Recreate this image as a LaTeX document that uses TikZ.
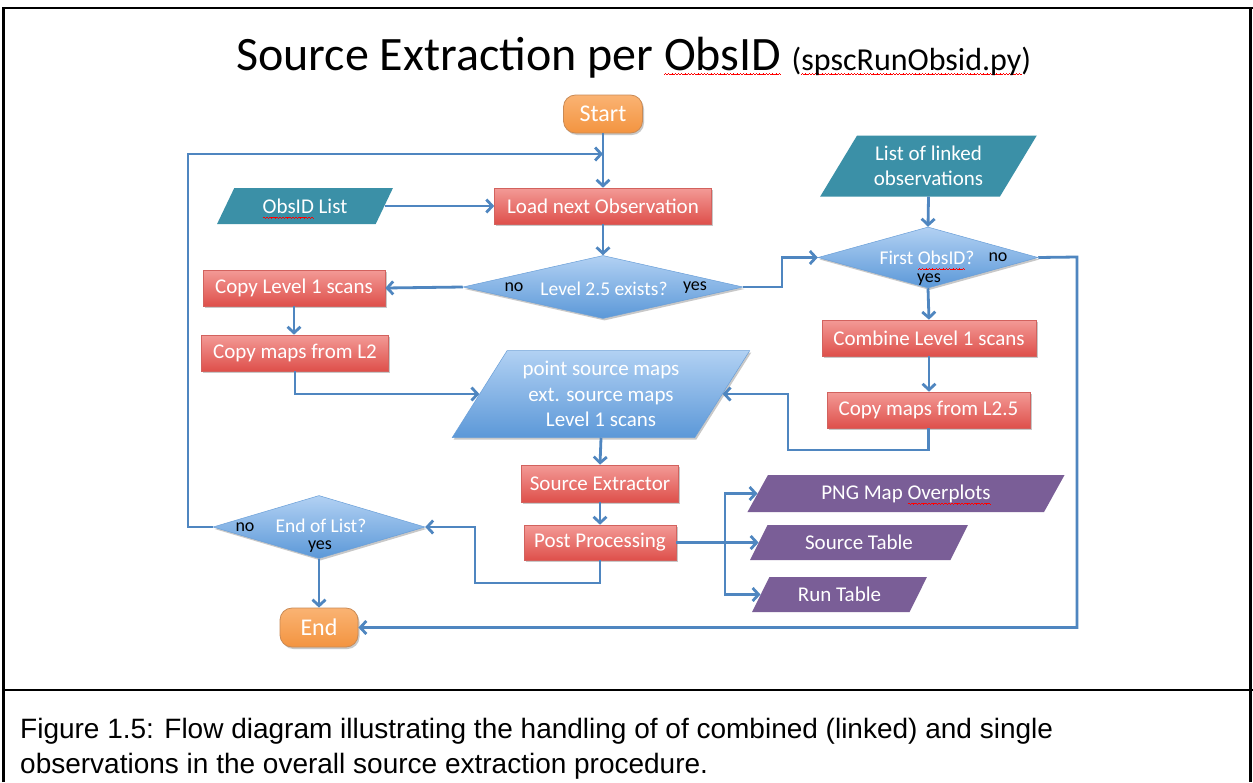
\documentclass[tikz,border=0pt]{standalone}
\usepackage{fontspec}
\setmainfont{Carlito}
\newfontfamily\capfont{Liberation Sans}
\usetikzlibrary{shapes.geometric,arrows.meta,shadows,calc}
\newcommand\spellwave[1]{\setbox0\hbox{#1}\leavevmode\rlap{\raisebox{-4.5pt}[0pt][0pt]{\color{red}\hbox to \wd0{\xleaders\hbox{\rule{0.8pt}{0.6pt}\rule[0.5pt]{0.8pt}{0.6pt}\rule{0.8pt}{0.6pt}\rule[-0.5pt]{0.8pt}{0.6pt}}\hfill}}}\box0\relax}
\definecolor{arrowc}{HTML}{4F86C0}
\definecolor{redtop}{HTML}{F39A96}
\definecolor{redbot}{HTML}{DE504B}
\definecolor{redln}{HTML}{D2625E}
\definecolor{ortop}{HTML}{FAB373}
\definecolor{orbot}{HTML}{F39440}
\definecolor{orln}{HTML}{C98A55}
\definecolor{tealc}{HTML}{3B90A7}
\definecolor{bltop}{HTML}{B2D1F3}
\definecolor{blbot}{HTML}{5B98D8}
\definecolor{blln}{HTML}{6A9FD8}
\definecolor{purp}{HTML}{7A5E97}
\tikzset{
  conn/.style={draw=arrowc, line width=2.8pt, -{Straight Barb[length=6pt,width=13pt]}},
  shadowed/.style={drop shadow={shadow xshift=1.5pt, shadow yshift=-2pt, opacity=0.3, fill=black!70}},
  box/.style={rectangle, draw=redln, line width=0.6pt, top color=redtop, bottom color=redbot,
    text=white, font=\fontsize{21}{25}\selectfont, inner sep=0pt, shadowed},
  startend/.style={rectangle, rounded corners=12pt, draw=orln, line width=0.8pt, top color=ortop, bottom color=orbot,
    text=white, font=\fontsize{24}{28}\selectfont, inner sep=0pt, shadowed},
  para/.style={trapezium, trapezium left angle=55, trapezium right angle=125, trapezium stretches=true,
    inner sep=0pt, text=white, font=\fontsize{21}{25.5}\selectfont, align=center},
  inputp/.style={para, fill=tealc},
  datap/.style={para, top color=bltop, bottom color=blbot, draw=blln, line width=0.5pt, shadowed},
  outp/.style={para, fill=purp},
  dia/.style={diamond, inner sep=0pt, top color=bltop, bottom color=blbot, draw=blln, line width=0.5pt, shadowed},
  dtext/.style={text=white, font=\fontsize{19.5}{22}\selectfont, inner sep=0pt},
  lbl/.style={text=black, font=\fontsize{18}{20}\selectfont, inner sep=0pt},
}
\begin{document}
\begin{tikzpicture}[x=1pt,y=-1pt]
\useasboundingbox (0,0) rectangle (1253,782);
\fill[white] (0,0) rectangle (1253,782);
% frame
\draw[line width=2.5pt] (3.5,782) -- (3.5,8) -- (1253,8);
\draw[line width=2.5pt] (1250.5,8) -- (1250.5,782);
\draw[line width=2.5pt] (3.5,690) -- (1253,690);
% title
\node[anchor=base west, font=\fontsize{48}{54}\selectfont, inner sep=0pt] (title) at (236,70) {Source Extraction per \spellwave{ObsID}};
\node[anchor=base west, font=\fontsize{32}{36}\selectfont, inner sep=0pt] (sub) at ([xshift=10pt]title.base east) {(\spellwave{spscRunObsid.py})};
% nodes
\node[startend, minimum width=79, minimum height=38] (start) at (603,114) {Start};
\node[box, minimum width=217, minimum height=36] (load) at (603,206) {Load next Observation};
\node[inputp, minimum width=176, minimum height=36] (obsid) at (305,206) {\spellwave{ObsID} List};
\node[dia, minimum width=280, minimum height=63] (l25) at (603,287) {};
\node[dtext] (l25t) at (604,289) {Level 2.5 exists?};
\node[lbl] (l25no) at (514,287) {no};
\node[lbl] (l25yes) at (695,288) {yes};
\node[box, minimum width=182, minimum height=36] (cl1) at (294,288) {Copy Level 1 scans};
\node[box, minimum width=187, minimum height=36] (cl2) at (295,353) {Copy maps from L2};
\node[datap, minimum width=298, minimum height=87] (param) at (601,394) {point source maps\\ext. source maps\\Level 1 scans};
\node[inputp, minimum width=217, minimum height=61] (linked) at (928.5,166) {List of linked\\observations};
\node[dia, minimum width=220, minimum height=61] (first) at (928,257.5) {};
\node[dtext] (firstt) at (927,258) {First \spellwave{ObsID}?};
\node[lbl] (firstno) at (998,257) {no};
\node[lbl] (firstyes) at (929,280) {yes};
\node[box, minimum width=214, minimum height=36] (comb) at (929,338) {Combine Level 1 scans};
\node[box, minimum width=203, minimum height=36] (cl25) at (928.5,410) {Copy maps from L2.5};
\node[box, minimum width=157, minimum height=37] (se) at (600,483.5) {Source Extractor};
\node[box, minimum width=152, minimum height=35] (pp) at (600,542.5) {Post Processing};
\node[dia, minimum width=212, minimum height=63] (eol) at (319,527) {};
\node[dtext] (eolt) at (321,526) {End of List?};
\node[lbl] (eolno) at (245,527) {no};
\node[lbl] (eolyes) at (320,546.5) {yes};
\node[startend, minimum width=78, minimum height=39] (end) at (319,627.5) {End};
\node[outp, minimum width=318, minimum height=37] (png) at (906,493.5) {PNG Map \spellwave{Overplots}};
\node[outp, minimum width=218, minimum height=35] (stab) at (859,542.5) {Source Table};
\node[outp, minimum width=175, minimum height=35] (rtab) at (839.5,594.5) {Run Table};
% junction coordinates
\coordinate (loopin) at (603,154);
\coordinate (lx) at (188,154);
\coordinate (j1) at (782,287);
\coordinate (j2) at (788,450);
\coordinate (j3) at (1077,257);
\coordinate (j4) at (475,583);
\coordinate (j5) at (725,542.5);
% connectors
\draw[conn] (start.south) -- (load.north);
\draw[conn] (eol.west) -| (lx) -- (loopin);
\draw[conn] (obsid.right side) -- (load.west);
\draw[conn] (load.south) -- (l25.north);
\draw[conn] (l25.west) -- (cl1.east);
\draw[conn] (cl1.south) -- (cl1.south |- cl2.north);
\draw[conn] (cl2.south) |- (param.left side);
\draw[conn] (l25.east) -- (j1) |- (first.west);
\draw[conn] (linked.south) -- (first.north);
\draw[conn] (first.south) -- (comb.north);
\draw[conn] (comb.south) -- (comb.south |- cl25.north);
\draw[conn] (cl25.south) |- (j2) |- (param.right side);
\draw[conn] (first.east) -- (j3) |- (end.east);
\draw[conn] (param.south) -- (se.north);
\draw[conn] (se.south) -- (pp.north);
\draw[conn] (pp.south) |- (j4) |- (eol.east);
\draw[conn] (eol.south) -- (end.north);
\draw[conn] (pp.east) -- (j5) |- (png.left side);
\draw[conn] (j5) -- (stab.left side);
\draw[conn] (j5) |- (rtab.left side);
% caption
\node[anchor=base west, font=\capfont\fontsize{28}{34}\selectfont, inner sep=0pt] (cap1) at (20,738) {Figure 1.5: Flow diagram illustrating the handling of of combined (linked) and single};
\node[anchor=base west, font=\capfont\fontsize{28}{34}\selectfont, inner sep=0pt] (cap2) at (20,773) {observations in the overall source extraction procedure.};
\end{tikzpicture}
\end{document}
